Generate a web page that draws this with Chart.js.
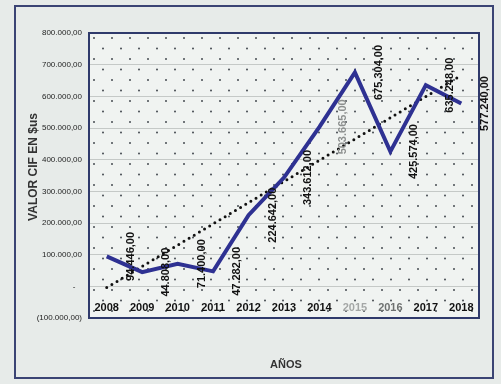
<!DOCTYPE html>
<html>
<head>
<meta charset="utf-8">
<script src="https://cdn.jsdelivr.net/npm/chart.js@4"></script>
<style>
  html, body { margin: 0; padding: 0; background: #e7ebe9; }
  canvas { display: block; }
</style>
</head>
<body>
<canvas id="chartCanvas" width="501" height="384"></canvas>
<script>
var years = ['2008', '2009', '2010', '2011', '2012', '2013', '2014', '2015', '2016', '2017', '2018'];
var cifValues = [94446, 44808, 71400, 47282, 224642, 343612, 503665, 675304, 425574, 635248, 577240];
var yMin = -100000;
var yMax = 800000;
var yStep = 100000;

// number format used on the sheet: 1.234,00 and (1.234,00) for negatives
function fmtMoney(v) {
    if (v === 0) return '-   ';
    var s = Math.abs(v).toFixed(0).replace(/\B(?=(\d{3})+(?!\d))/g, '.') + ',00';
    return v < 0 ? '(' + s + ')' : s;
}

// linear trendline over the yearly values
function linearTrend(values) {
    var n = values.length, sx = 0, sy = 0, sxy = 0, sxx = 0;
    values.forEach(function(v, i) { sx += i; sy += v; sxy += i * v; sxx += i * i; });
    var slope = (n * sxy - sx * sy) / (n * sxx - sx * sx);
    var icpt = (sy - slope * sx) / n;
    return values.map(function(v, i) { return icpt + slope * i; });
}

var chartFrame = {
    id: 'chartFrame',
    beforeDraw: function(chart) {
        var ctx = chart.ctx, a = chart.chartArea;
        ctx.save();
        ctx.fillStyle = '#e7ebe9';
        ctx.fillRect(0, 0, chart.width, chart.height);
        ctx.strokeStyle = '#3b4474';
        ctx.lineWidth = 2;
        ctx.strokeRect(15, 6, 478, 372);
        ctx.fillStyle = '#f0f3f1';
        ctx.fillRect(a.left, a.top, a.width, a.height);
        // dotted fill of the plot area
        ctx.fillStyle = '#474c52';
        var row = 0;
        for (var y = a.top + 5; y < a.bottom - 2; y += 10.5, row++) {
            for (var x = a.left + 5 + (row % 2 ? 9 : 0); x < a.right - 2; x += 18) {
                ctx.beginPath();
                ctx.arc(x, y, 1, 0, Math.PI * 2);
                ctx.fill();
            }
        }
        ctx.restore();
    },
    beforeDatasetsDraw: function(chart) {
        var ctx = chart.ctx, a = chart.chartArea;
        ctx.save();
        ctx.strokeStyle = '#2f3a6b';
        ctx.lineWidth = 2;
        ctx.strokeRect(a.left, a.top, a.width, a.height);
        ctx.restore();
    },
    afterDatasetsDraw: function(chart) {
        var ctx = chart.ctx, a = chart.chartArea;
        var xs = chart.scales.x, ys = chart.scales.y;
        ctx.save();
        // year labels sit inside the plot, under the zero line
        ctx.font = 'bold 11px "Liberation Sans", Arial, sans-serif';
        ctx.textAlign = 'center';
        ctx.textBaseline = 'middle';
        years.forEach(function(yr, i) {
            ctx.fillStyle = yr === '2015' ? '#a4a7a6' : (yr === '2016' ? '#6e7170' : '#111');
            ctx.fillText(yr, xs.getPixelForValue(i), a.bottom - 10);
        });
        // rotated value labels
        cifValues.forEach(function(v, i) {
            ctx.save();
            ctx.translate(xs.getPixelForValue(i) + 24, ys.getPixelForValue(v));
            ctx.rotate(-Math.PI / 2);
            ctx.fillStyle = i === 6 ? '#8d908f' : '#111';
            ctx.fillText(fmtMoney(v), 0, 0);
            ctx.restore();
        });
        // axis titles
        ctx.fillStyle = '#333';
        ctx.font = 'bold 11px "Liberation Sans", Arial, sans-serif';
        ctx.fillText('AÑOS', 286, 365);
        ctx.translate(34, 167);
        ctx.rotate(-Math.PI / 2);
        ctx.font = 'bold 12px "Liberation Sans", Arial, sans-serif';
        ctx.fillText('VALOR CIF EN $us', 0, 0);
        ctx.restore();
    }
};

var ctx = document.getElementById('chartCanvas').getContext('2d');
var cifChart = new Chart(ctx, {
    type: 'line',
    data: {
        labels: years,
        datasets: [{
            label: 'Valor CIF',
            data: cifValues,
            borderColor: '#2e3192',
            borderWidth: 4,
            pointRadius: 0,
            tension: 0,
            fill: false,
            order: 0
        }, {
            label: 'Lineal',
            data: linearTrend(cifValues),
            borderColor: '#111',
            borderWidth: 3,
            borderDash: [0, 6],
            borderCapStyle: 'round',
            pointRadius: 0,
            tension: 0,
            fill: false,
            order: 1
        }]
    },
    options: {
        responsive: false,
        animation: false,
        layout: { padding: { top: 33, right: 22, bottom: 66, left: 0 } },
        plugins: {
            legend: { display: false },
            tooltip: { enabled: false }
        },
        scales: {
            x: { display: false, offset: true },
            y: {
                min: yMin,
                max: yMax,
                afterFit: function(scale) { scale.width = 89; },
                ticks: {
                    stepSize: yStep,
                    color: '#1e1e1e',
                    padding: 7,
                    font: { size: 8, family: '"Liberation Sans", Arial, sans-serif' },
                    callback: function(v) { return fmtMoney(v); }
                },
                grid: { color: '#c5c9c7', lineWidth: 1, drawTicks: false },
                border: { display: false }
            }
        }
    },
    plugins: [chartFrame]
});
</script>
</body>
</html>
